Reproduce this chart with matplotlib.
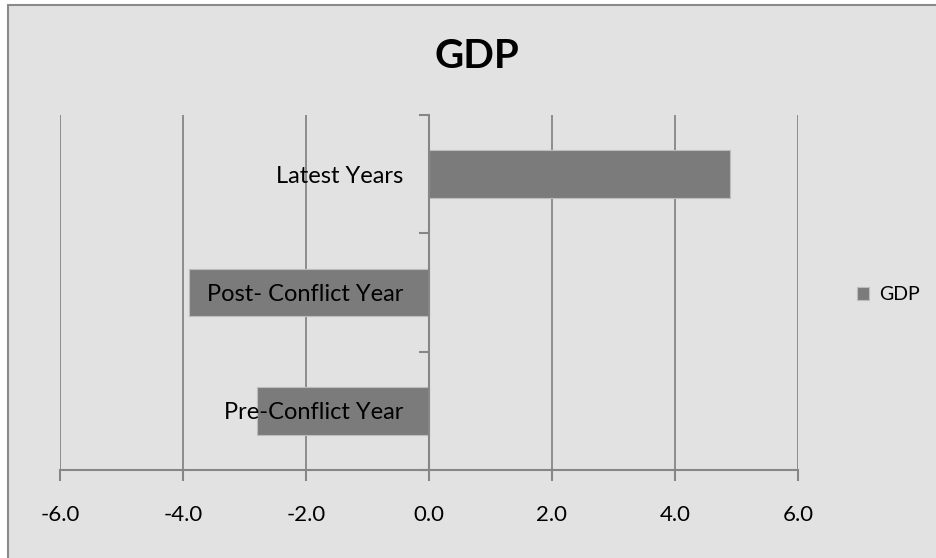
import matplotlib.pyplot as plt
from matplotlib.patches import Rectangle

categories = ["Pre-Conflict Year", "Post- Conflict Year", "Latest Years"]
gdp_values = [-2.8, -3.9, 4.9]
x_ticks = [-6.0, -4.0, -2.0, 0.0, 2.0, 4.0, 6.0]

W, H = 937, 558
GRAY = "#868686"
BAR = "#7b7b7b"
BG = "#e2e2e2"

plt.rcParams["font.family"] = ["Lato", "DejaVu Sans"]

fig = plt.figure(figsize=(W / 100, H / 100), dpi=100, facecolor="white")

# chart area: bordered on top/left, running off the right and bottom edges
fig.patches.append(
    Rectangle((8.5 / W, -10 / H), (W + 20) / W, (H - 4.5 + 10) / H,
              transform=fig.transFigure, facecolor=BG, edgecolor="#8a8a8a",
              linewidth=1.5, zorder=-10)
)

ax = fig.add_axes([60 / W, 1 - 470 / H, (798 - 60) / W, (470 - 115) / H])
ax.set_facecolor("none")

pos = list(range(len(categories)))
bars = ax.barh(pos, gdp_values, height=0.4, color=BAR, edgecolor="#bdbdbd",
               linewidth=0.8, zorder=3, label="GDP")

ax.set_xlim(-6, 6)
ax.set_ylim(-0.5, 2.5)

ax.set_xticks(x_ticks)
ax.set_xticklabels([f"{v:.1f}" for v in x_ticks])
ax.tick_params(axis="x", direction="out", length=8, width=1.5, color=GRAY,
               pad=17, labelsize=16)
ax.grid(axis="x", color=GRAY, linewidth=1.3)
ax.xaxis.set_zorder(1.5)

ax.set_yticks(pos)
ax.set_yticklabels(categories)
ax.set_yticks([-0.5, 0.5, 1.5, 2.5], minor=True)
ax.tick_params(axis="y", which="major", length=0, pad=18.5, labelsize=17)
ax.tick_params(axis="y", which="minor", direction="out", length=7, width=1.5, color=GRAY)
# category labels sit on top of the bars
ax.yaxis.set_zorder(5)

for side in ("top", "right"):
    ax.spines[side].set_visible(False)
ax.spines["left"].set_position(("data", 0))
ax.spines["left"].set_color(GRAY)
ax.spines["left"].set_linewidth(1.5)
ax.spines["left"].set_zorder(4)
ax.spines["bottom"].set_color(GRAY)
ax.spines["bottom"].set_linewidth(1.5)

fig.text(477 / W, 1 - 56 / H, "GDP", fontsize=29, fontweight="bold",
         ha="center", va="center")

ax.legend(loc="center left", bbox_to_anchor=(857 / W, 1 - 295 / H),
          bbox_transform=fig.transFigure, frameon=False, fontsize=14,
          handlelength=0.62, handleheight=0.62, handletextpad=0.5,
          borderpad=0, borderaxespad=0)

fig.savefig("out.png", dpi=100, facecolor=fig.get_facecolor())
